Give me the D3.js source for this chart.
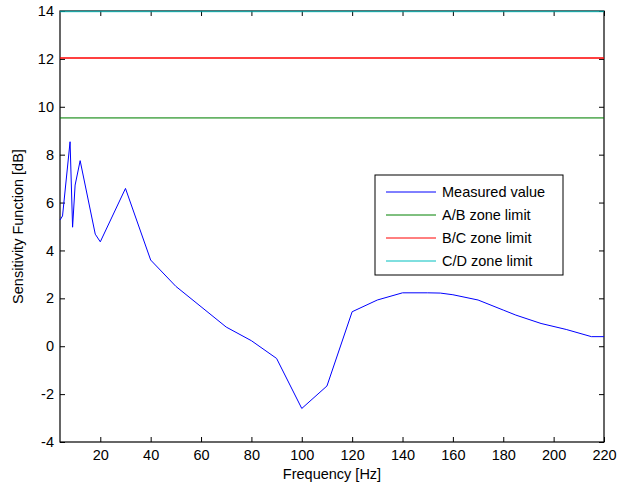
<!DOCTYPE html>
<html>
<head>
<meta charset="utf-8">
<script src="https://cdn.jsdelivr.net/npm/d3@7"></script>
<style>
  body { margin: 0; background: #fff; }
  text { font-family: "Liberation Sans", Arial, sans-serif; }
</style>
</head>
<body>
<svg id="chart" width="621" height="491"></svg>
<script>
const freqs = [4, 5, 8, 9, 10, 12, 18, 20, 30, 40, 50, 60, 70, 80, 90, 100, 110, 120, 130, 140, 150, 155, 160, 170, 180, 185, 195, 205, 215, 220];
const measured = [5.27, 5.44, 8.54, 4.97, 6.73, 7.75, 4.68, 4.36, 6.59, 3.6, 2.5, 1.65, 0.8, 0.23, -0.51, -2.6, -1.66, 1.44, 1.93, 2.23, 2.23, 2.22, 2.15, 1.93, 1.51, 1.3, 0.95, 0.7, 0.4, 0.4];
const zoneNames = ["A/B zone limit", "B/C zone limit", "C/D zone limit"];
const zoneLimits = [9.54, 12.04, 13.98];
const xTicks = [20, 40, 60, 80, 100, 120, 140, 160, 180, 200, 220];
const yTicks = [-4, -2, 0, 2, 4, 6, 8, 10, 12, 14];

const colors = {
  measured: "#0000ff",
  zones: ["#008000", "#ff0000", "#00bfbf"],
};
// how the zone lines look inside the plot (green is soft, cyan sits on the top border)
const zoneOpacity = [0.6, 1, 0.7];
const zoneWidth = [1.8, 1.4, 1.4];

const margin = { left: 60, right: 17, top: 11, bottom: 49 };
const width = 621, height = 491;
const fontSize = "14.5px";

const svg = d3.select("#chart");

const x = d3.scaleLinear().domain([4, 220]).range([margin.left, width - margin.right]);
const y = d3.scaleLinear().domain([-4, 14]).range([height - margin.bottom, margin.top]);

// plain hyphen for negatives, like the original
const fmt = (d) => String(d);

// axes, ticks inside on all sides
const tickLen = 5;
const axisFont = (g) => g.selectAll("text").style("font-size", fontSize).attr("fill", "#000");

svg.append("g")
  .attr("transform", `translate(0,${y.range()[0]})`)
  .call(d3.axisBottom(x).tickValues(xTicks).tickFormat(fmt).tickSizeInner(-tickLen).tickSizeOuter(0).tickPadding(8))
  .call(axisFont)
  .call((g) => g.select(".domain").remove());

svg.append("g")
  .attr("transform", `translate(0,${y.range()[1]})`)
  .call(d3.axisTop(x).tickValues(xTicks).tickSizeInner(-tickLen).tickSizeOuter(0).tickFormat(""))
  .call((g) => g.select(".domain").remove());

svg.append("g")
  .attr("transform", `translate(${x.range()[0]},0)`)
  .call(d3.axisLeft(y).tickValues(yTicks).tickFormat(fmt).tickSizeInner(-tickLen).tickSizeOuter(0).tickPadding(6))
  .call(axisFont)
  .call((g) => g.select(".domain").remove());

svg.append("g")
  .attr("transform", `translate(${x.range()[1]},0)`)
  .call(d3.axisRight(y).tickValues(yTicks).tickSizeInner(-tickLen).tickSizeOuter(0).tickFormat(""))
  .call((g) => g.select(".domain").remove());

svg.selectAll(".tick line").attr("stroke", "#000");

svg.append("rect")
  .attr("x", x.range()[0])
  .attr("y", y.range()[1])
  .attr("width", x.range()[1] - x.range()[0])
  .attr("height", y.range()[0] - y.range()[1])
  .attr("fill", "none")
  .attr("stroke", "#000")
  .attr("stroke-width", 1.2);

// data lines
const line = d3.line().x((d) => x(d[0])).y((d) => y(d[1]));

svg.append("path")
  .datum(freqs.map((f, i) => [f, measured[i]]))
  .attr("fill", "none")
  .attr("stroke", colors.measured)
  .attr("stroke-width", 1)
  .attr("d", line);

zoneLimits.forEach((v, i) => {
  svg.append("path")
    .datum([[4, v], [220, v]])
    .attr("fill", "none")
    .attr("stroke", colors.zones[i])
    .attr("stroke-width", zoneWidth[i])
    .attr("stroke-opacity", zoneOpacity[i])
    .attr("d", line);
});

// axis labels
svg.append("text")
  .attr("x", (x.range()[0] + x.range()[1]) / 2)
  .attr("y", 479)
  .attr("text-anchor", "middle")
  .style("font-size", fontSize)
  .text("Frequency [Hz]");

svg.append("text")
  .attr("transform", `translate(23,${(y.range()[0] + y.range()[1]) / 2}) rotate(-90)`)
  .attr("text-anchor", "middle")
  .style("font-size", fontSize)
  .text("Sensitivity Function [dB]");

// legend
const legendItems = [{ name: "Measured value", color: colors.measured }].concat(
  zoneNames.map((n, i) => ({ name: n, color: colors.zones[i] }))
);

const legend = svg.append("g").attr("transform", "translate(375,175)");
legend.append("rect")
  .attr("width", 188)
  .attr("height", 100)
  .attr("fill", "#fff")
  .attr("stroke", "#000")
  .attr("stroke-width", 1);

legendItems.forEach((item, i) => {
  const ly = 17 + i * 23;
  legend.append("line")
    .attr("x1", 11)
    .attr("x2", 61)
    .attr("y1", ly)
    .attr("y2", ly)
    .attr("stroke", item.color)
    .attr("stroke-width", 1);
  legend.append("text")
    .attr("x", 67)
    .attr("y", ly + 5)
    .style("font-size", fontSize)
    .text(item.name);
});
</script>
</body>
</html>
